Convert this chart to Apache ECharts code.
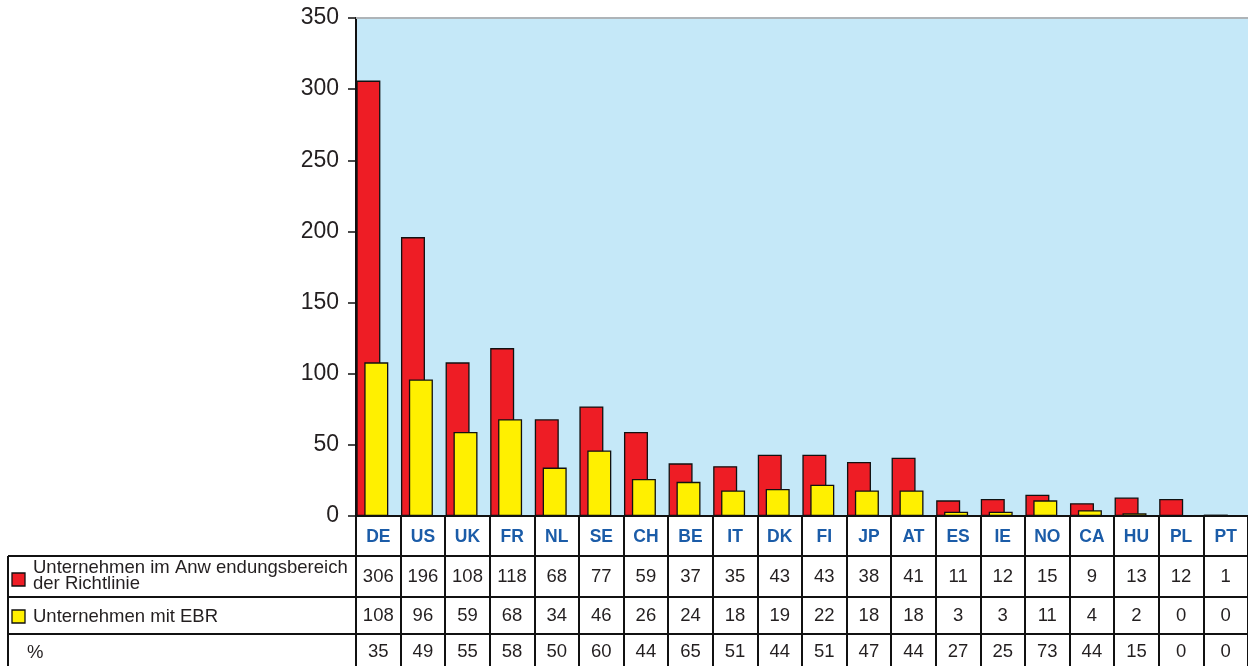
<!DOCTYPE html>
<html>
<head>
<meta charset="utf-8">
<title>EBR</title>
<script src="https://cdn.jsdelivr.net/npm/echarts@6/dist/echarts.min.js"></script>
<style>
  html, body { margin: 0; padding: 0; background: #fff; }
  #chart { width: 1248px; height: 666px; }
</style>
</head>
<body>
<div id="chart"></div>
<script>
const countries = ['DE', 'US', 'UK', 'FR', 'NL', 'SE', 'CH', 'BE', 'IT', 'DK', 'FI', 'JP', 'AT', 'ES', 'IE', 'NO', 'CA', 'HU', 'PL', 'PT']
const inScope = [306, 196, 108, 118, 68, 77, 59, 37, 35, 43, 43, 38, 41, 11, 12, 15, 9, 13, 12, 1]
const withEbr = [108, 96, 59, 68, 34, 46, 26, 24, 18, 19, 22, 18, 18, 3, 3, 11, 4, 2, 0, 0]
const percent = [35, 49, 55, 58, 50, 60, 44, 65, 51, 44, 51, 47, 44, 27, 25, 73, 44, 15, 0, 0]
const yMax = 350
const yStep = 50

const rowNames = ['Unternehmen im Anw endungsbereich\nder Richtlinie', 'Unternehmen mit EBR', '%']

const RED = '#EE1D25'
const YELLOW = '#FFF000'
const BLUE = '#1B5CA8'
const INK = '#231F20'
const FONT = '"Liberation Sans", Arial, sans-serif'

// table geometry (px)
const gridLeft = 356
const gridTop = 18
const axisY = 516
const tableLeft = 8
const rowLines = [556, 597, 634]

const chart = echarts.init(document.getElementById('chart'))

// extra category axes used as the rows of the data table
function rowAxis(values, margin) {
  return {
    type: 'category',
    position: 'bottom',
    data: values.map(String),
    axisLine: { show: false },
    axisTick: { show: false },
    axisLabel: {
      interval: 0,
      margin: margin,
      color: INK,
      fontFamily: FONT,
      fontSize: 18.5
    }
  }
}

const line = (x1, y1, x2, y2, color) => ({
  type: 'line',
  shape: { x1, y1, x2, y2 },
  style: { stroke: color || '#111', lineWidth: 2 },
  z: 10
})

chart.setOption({
  animation: false,
  grid: {
    left: gridLeft,
    right: 0,
    top: gridTop,
    bottom: 666 - axisY,
    show: true,
    backgroundColor: '#C5E8F8',
    borderWidth: 0
  },
  xAxis: [
    {
      type: 'category',
      data: countries,
      axisLine: { lineStyle: { color: '#111', width: 2 } },
      axisTick: { show: true, interval: 0, length: 150, lineStyle: { color: '#111', width: 2 } },
      axisLabel: {
        interval: 0,
        margin: 12,
        color: BLUE,
        fontFamily: FONT,
        fontWeight: 'bold',
        fontSize: 17.5
      }
    },
    rowAxis(inScope, 51),
    rowAxis(withEbr, 90),
    rowAxis(percent, 126)
  ],
  yAxis: {
    type: 'value',
    min: 0,
    max: yMax,
    interval: yStep,
    axisLine: { show: true, lineStyle: { color: '#111', width: 2 } },
    axisTick: { show: true, length: 8, lineStyle: { color: '#111', width: 1.5 } },
    splitLine: { show: false },
    axisLabel: {
      margin: 17,
      color: INK,
      fontFamily: FONT,
      fontSize: 23
    }
  },
  series: [
    {
      name: rowNames[0],
      type: 'bar',
      data: inScope,
      barWidth: 24,
      barGap: '-67%',
      itemStyle: { color: RED, borderColor: '#111', borderWidth: 1.3 }
    },
    {
      name: rowNames[1],
      type: 'bar',
      data: withEbr,
      barWidth: 24,
      barGap: '-67%',
      itemStyle: { color: YELLOW, borderColor: '#111', borderWidth: 1.3 }
    },
    {
      // empty spacer: pushes the bar pair slightly left of the category centre
      name: 'spacer',
      type: 'bar',
      data: [],
      barWidth: 28,
      barGap: '-67%'
    }
  ],
  graphic: [
    line(gridLeft, gridTop, 1248, gridTop, '#AEB4B8'),
    line(tableLeft, rowLines[0], 1248, rowLines[0]),
    line(tableLeft, rowLines[1], 1248, rowLines[1]),
    line(tableLeft, rowLines[2], 1248, rowLines[2]),
    line(tableLeft, rowLines[0], tableLeft, 666),
    {
      type: 'rect',
      shape: { x: 12, y: 573, width: 13, height: 13 },
      style: { fill: RED, stroke: '#111', lineWidth: 1.3 }
    },
    {
      type: 'text',
      x: 33,
      y: 560,
      style: { text: rowNames[0], font: '18.5px ' + FONT, fill: INK, lineHeight: 16 }
    },
    {
      type: 'rect',
      shape: { x: 12, y: 610, width: 13, height: 13 },
      style: { fill: YELLOW, stroke: '#111', lineWidth: 1.3 }
    },
    {
      type: 'text',
      x: 33,
      y: 617,
      style: { text: rowNames[1], font: '18.5px ' + FONT, fill: INK, verticalAlign: 'middle' }
    },
    {
      type: 'text',
      x: 27,
      y: 653,
      style: { text: rowNames[2], font: '18.5px ' + FONT, fill: INK, verticalAlign: 'middle' }
    }
  ]
})
</script>
</body>
</html>
